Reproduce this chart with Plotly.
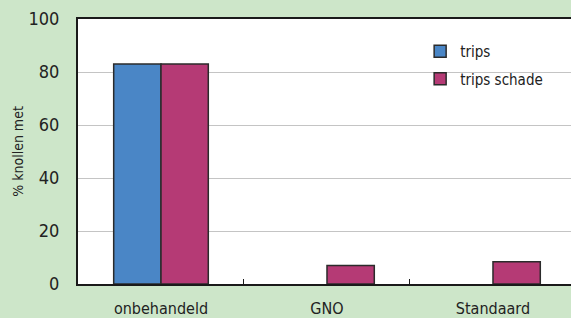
import plotly.graph_objects as go

categories = ["onbehandeld", "GNO", "Standaard"]
trips = [83, 0, 0]
trips_schade = [83, 7, 8.4]
y_ticks = [0, 20, 40, 60, 80, 100]

BLUE = "#4a86c6"
MAGENTA = "#b53a75"
BG = "#cde6c9"
FONT = "DejaVu Sans Condensed, sans-serif"
EDGE = "#2b2b2b"

fig = go.Figure()
fig.add_trace(go.Bar(x=categories, y=trips, name="trips", legendgroup="a",
                     marker=dict(color=BLUE,
                                 line=dict(color=EDGE, width=[1.5 if v else 0 for v in trips]))))
fig.add_trace(go.Bar(x=categories, y=trips_schade, name="trips schade", legendgroup="b",
                     marker=dict(color=MAGENTA,
                                 line=dict(color=EDGE, width=[1.5 if v else 0 for v in trips_schade]))))

fig.update_layout(
    width=571, height=318,
    margin=dict(l=78, r=0, t=19, b=34, autoexpand=False),
    paper_bgcolor=BG, plot_bgcolor="white",
    barmode="group", bargap=0.43, bargroupgap=0,
    font=dict(family=FONT, size=16, color="#222"),
    showlegend=True,
    legend=dict(x=0.694, y=0.94, xanchor="left", yanchor="top",
                bgcolor="rgba(0,0,0,0)", font=dict(size=15, color="#222"),
                itemwidth=30, traceorder="grouped", tracegroupgap=5),
    xaxis=dict(range=[-0.5, 2.47], showline=True, linecolor="#1a1a1a", linewidth=2,
               mirror=True, ticks="inside", tickson="boundaries", ticklen=5,
               tickcolor="#1a1a1a", showgrid=False, ticklabelstandoff=9,
               tickfont=dict(size=16), automargin=False),
    yaxis=dict(range=[0, 100], tickvals=y_ticks, showline=True, linecolor="#1a1a1a",
               linewidth=2, showgrid=True, gridcolor="#c4c4c4", gridwidth=1,
               zeroline=False, ticks="", ticklabelstandoff=13,
               tickfont=dict(size=18), automargin=False,
               title=dict(text="% knollen met", font=dict(size=14), standoff=2)),
)

fig.write_html("out.html", config={"displayModeBar": False},
               post_script="document.body.style.margin='0';")
